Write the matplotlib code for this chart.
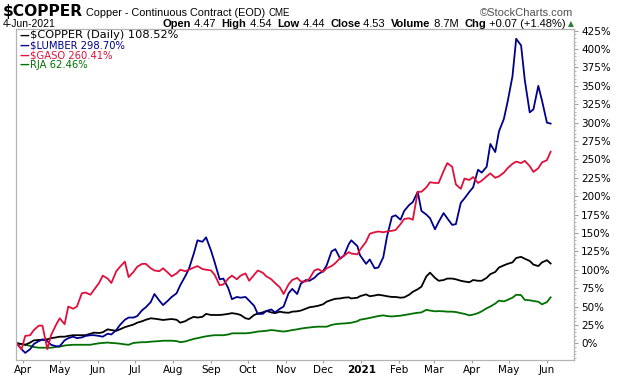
import numpy as np
import pandas as pd
import matplotlib
matplotlib.use('Agg')
import matplotlib.pyplot as plt

# performance since 27-Mar-2020, in % (Tue/Fri samples)
dates = pd.to_datetime([
    '2020-03-27', '2020-03-31', '2020-04-03', '2020-04-07', '2020-04-10', '2020-04-14', '2020-04-17',
    '2020-04-21', '2020-04-24', '2020-04-28', '2020-05-01', '2020-05-05', '2020-05-08', '2020-05-12',
    '2020-05-15', '2020-05-19', '2020-05-22', '2020-05-26', '2020-05-29', '2020-06-02', '2020-06-05',
    '2020-06-09', '2020-06-12', '2020-06-16', '2020-06-19', '2020-06-23', '2020-06-26', '2020-06-30',
    '2020-07-03', '2020-07-07', '2020-07-10', '2020-07-14', '2020-07-17', '2020-07-21', '2020-07-24',
    '2020-07-28', '2020-07-31', '2020-08-04', '2020-08-07', '2020-08-11', '2020-08-14', '2020-08-18',
    '2020-08-21', '2020-08-25', '2020-08-28', '2020-09-01', '2020-09-04', '2020-09-08', '2020-09-11',
    '2020-09-15', '2020-09-18', '2020-09-22', '2020-09-25', '2020-09-29', '2020-10-02', '2020-10-06',
    '2020-10-09', '2020-10-13', '2020-10-16', '2020-10-20', '2020-10-23', '2020-10-27', '2020-10-30',
    '2020-11-03', '2020-11-06', '2020-11-10', '2020-11-13', '2020-11-17', '2020-11-20', '2020-11-24',
    '2020-11-27', '2020-12-01', '2020-12-04', '2020-12-08', '2020-12-11', '2020-12-15', '2020-12-18',
    '2020-12-22', '2020-12-24', '2020-12-29', '2020-12-31', '2021-01-05', '2021-01-08', '2021-01-12',
    '2021-01-15', '2021-01-19', '2021-01-22', '2021-01-26', '2021-01-29', '2021-02-02', '2021-02-05',
    '2021-02-09', '2021-02-12', '2021-02-16', '2021-02-19', '2021-02-23', '2021-02-26', '2021-03-02',
    '2021-03-05', '2021-03-09', '2021-03-12', '2021-03-16', '2021-03-19', '2021-03-23', '2021-03-26',
    '2021-03-30', '2021-04-02', '2021-04-06', '2021-04-09', '2021-04-13', '2021-04-16', '2021-04-20',
    '2021-04-23', '2021-04-27', '2021-04-30', '2021-05-04', '2021-05-07', '2021-05-11', '2021-05-14',
    '2021-05-18', '2021-05-21', '2021-05-25', '2021-05-28', '2021-06-01', '2021-06-04',
])

copper = [
    0, -1, -2, 1, 4, 4.5, 5, 5.5, 7, 8, 9, 9, 10, 11, 11, 11, 11, 13, 14.5, 14, 15,
    19, 18, 17, 19, 22, 23.5, 25.5, 28, 30, 32, 34, 33.5, 32.5, 31.7, 32.5, 33, 32, 28, 30, 33, 36,
    35, 36, 40, 38.5, 38.5, 38.5, 39, 40, 41, 40, 38.5, 34, 33, 38.5, 40.5, 42, 44, 42, 41, 43, 42,
    41.5, 43, 43.5, 44.5, 47, 49, 50, 51, 53, 56.6, 59, 60.5, 61, 62, 62.5, 61, 62, 64, 66.5, 64, 65,
    66, 65, 64, 63, 63, 62, 62.5, 66, 70, 73.5, 77, 91, 96, 89, 85, 86, 88, 88, 87, 85, 84,
    83, 86, 85, 85, 89, 94, 97, 103, 106, 108, 110, 116, 117.5, 115, 112, 107, 105, 110, 113, 108.5,
]

lumber = [
    0, -8, -13, -8, -1, 3, 5, 3, -2, -4, -4, 4, 7, 9, 7, 8, 10, 11, 11, 10, 9,
    13, 12, 18, 25, 32, 35, 35, 37, 45, 49, 56, 67, 58, 52, 58, 63, 68, 79, 91, 101, 122,
    140, 138, 144, 126, 110, 87, 88, 75, 60, 63, 62, 63, 58, 51, 40, 40, 44, 46, 42, 47, 50,
    68, 74, 67, 81, 86, 85, 89, 94, 98, 106, 125, 128, 115, 119, 135, 140, 132, 120, 108, 114, 102,
    103, 117, 145, 172, 174, 168, 180, 188, 192, 206, 180, 175, 170, 155, 165, 177, 170, 161, 162, 191, 197,
    206, 212, 236, 232, 240, 271, 260, 288, 305, 328, 363, 414, 405, 358, 314, 318, 350, 330, 300, 298.7,
]

gaso = [
    0, -8, 10, 11, 18, 24, 24, -8, 11, 25, 34, 26, 50, 47, 50, 68, 69, 66, 73, 82, 92,
    88, 82, 98, 104, 111, 90, 97, 104, 108, 108, 102, 99, 98, 102, 96, 91, 95, 100, 98, 100, 103,
    105, 101, 100, 99, 93, 79, 80, 88, 92, 87, 92, 95, 85, 93, 99, 96, 91, 87, 82, 76, 67,
    80, 86, 89, 84, 84, 88, 99, 101, 97, 102, 105, 109, 116, 119, 124, 122, 121, 127, 138, 149, 151,
    152, 151, 152, 153, 154, 162, 169, 170, 168, 206, 206, 212, 219, 218, 218, 234, 245, 240, 216, 210, 224,
    222, 226, 218, 221, 227, 231, 225, 227, 232, 238, 244, 247, 245, 248, 241, 233, 238, 246, 249, 260.4,
]

rja = [
    0, -1, -2, -3.5, -5, -6, -6, -6, -6, -5, -4.5, -3, -2.5, -2, -2, -2, -2, -2, -1, 0, 0.5,
    1, 0.5, 0, -0.5, -1.5, -2, 0.5, 1, 1.5, 1.5, 2.2, 2.6, 3, 3.5, 3.5, 3.5, 3, 1.5, 2.5, 4, 6,
    7, 8.5, 9.5, 10.5, 11, 11, 11, 12, 13.5, 13.6, 13.6, 13.6, 14, 15, 16, 16.5, 17, 18, 17.5, 16.5, 16,
    17, 18, 19, 20, 21, 21.5, 22.3, 22.6, 22.6, 22.6, 25, 26, 26.7, 27, 27.5, 28, 30, 32, 33.5, 34.5, 36,
    37, 38, 37, 36.5, 37, 37.5, 38.5, 39.5, 40.5, 41.5, 42, 45.5, 44.5, 43.5, 43.8, 43.5, 43, 43, 42.5, 41, 40,
    38, 39, 41, 43.5, 47.6, 50, 54, 58, 57, 59, 62, 66, 65.5, 59, 58.5, 57.5, 56.5, 53, 56, 62.5,
]

names = ['$COPPER (Daily) 108.52%', '$LUMBER 298.70%', '$GASO 260.41%', 'RJA 62.46%']
colors = ['#000000', '#00008c', '#e0103c', '#007000']

W, H = 620, 376
fig = plt.figure(figsize=(W / 100, H / 100), dpi=100)
ax = fig.add_axes([16 / W, 16 / H, 558 / W, 331 / H])

ax.plot(dates, rja, color=colors[3], lw=1.3)
ax.plot(dates, copper, color=colors[0], lw=1.3)
ax.plot(dates, lumber, color=colors[1], lw=1.3)
ax.plot(dates, gaso, color=colors[2], lw=1.3)

ax.set_xlim(pd.Timestamp('2020-03-26 12:00'), pd.Timestamp('2021-06-23'))
ax.set_ylim(-22.7, 427.3)

# y axis on the right, every 25%
ax.yaxis.tick_right()
ax.set_yticks(np.arange(0, 426, 25))
ax.set_yticklabels([f'{v}%' for v in range(0, 426, 25)])
ax.set_yticks(np.arange(-20, 426, 5), minor=True)
ax.tick_params(axis='y', which='major', length=3, width=0.8, color='#a0a0a0', labelsize=7.5, pad=2)
ax.tick_params(axis='y', which='minor', length=1.5, width=0.6, color='#b0b0b0')

months = pd.date_range('2020-04-01', '2021-06-01', freq='MS')
ax.set_xticks(months)
ax.set_xticklabels(['2021' if m.month == 1 else m.strftime('%b') for m in months])
for lab in ax.get_xticklabels():
    if lab.get_text() == '2021':
        lab.set_fontweight('bold')
ax.tick_params(axis='x', length=2, width=0.8, color='#a0a0a0', labelsize=7.5, pad=1.5)

for s in ax.spines.values():
    s.set_color('#b4b4b4')
    s.set_linewidth(0.9)

# legend as plain text
leg_y = [35.5, 46, 55.5, 65]
for i, (n, c) in enumerate(zip(names, colors)):
    y = 1 - leg_y[i] / H
    fig.text(20 / W, y, '\u2014', color=c, fontsize=7, fontweight='bold', va='center')
    fig.text(30 / W, y, n, color=c, fontsize=8.2 if i == 0 else 7.2, va='center')

fig.canvas.draw()
r = fig.canvas.get_renderer()


def run(parts, x0, ypix, size):
    # draw a row of text pieces one after another, return end x in pixels
    x = x0
    for txt, kw in parts:
        t = fig.text(x / W, 1 - ypix / H, txt, fontsize=kw.get('size', size), va='baseline',
                     fontweight=kw.get('weight', 'normal'), family=kw.get('family', 'Liberation Sans'),
                     color=kw.get('color', 'black'))
        x += t.get_window_extent(r).width
    return x


# header, first row
run([('$COPPER', dict(size=11.2, weight='bold', family='DejaVu Sans Condensed')),
     (' Copper - Continuous Contract (EOD) ', dict(size=7.8)),
     ('CME', dict(size=7))], 3, 16, 8)
fig.text(573 / W, 1 - 16 / H, '\u00a9StockCharts.com', fontsize=8, va='baseline', ha='right',
         color='#505050', family='Liberation Sans')

# second row
fig.text(3 / W, 1 - 27 / H, '4-Jun-2021', fontsize=7.5, va='baseline', family='Liberation Sans')
parts = [('Open', dict(weight='bold')), (' 4.47  ', {}), ('High', dict(weight='bold')), (' 4.54  ', {}),
         ('Low', dict(weight='bold')), (' 4.44  ', {}), ('Close', dict(weight='bold')), (' 4.53  ', {}),
         ('Volume', dict(weight='bold')), (' 8.7M  ', {}), ('Chg', dict(weight='bold')),
         (' +0.07 (+1.48%)', {})]
tmp = run(parts, 0, -50, 8)  # measure off-canvas
for t in fig.texts[-len(parts):]:
    t.remove()
run(parts, 566 - tmp, 27, 8)
fig.text(568 / W, 1 - 24 / H, '\u25b2', fontsize=5.5, va='center', color='#2e7d32')

fig.savefig('out.png', dpi=100)
